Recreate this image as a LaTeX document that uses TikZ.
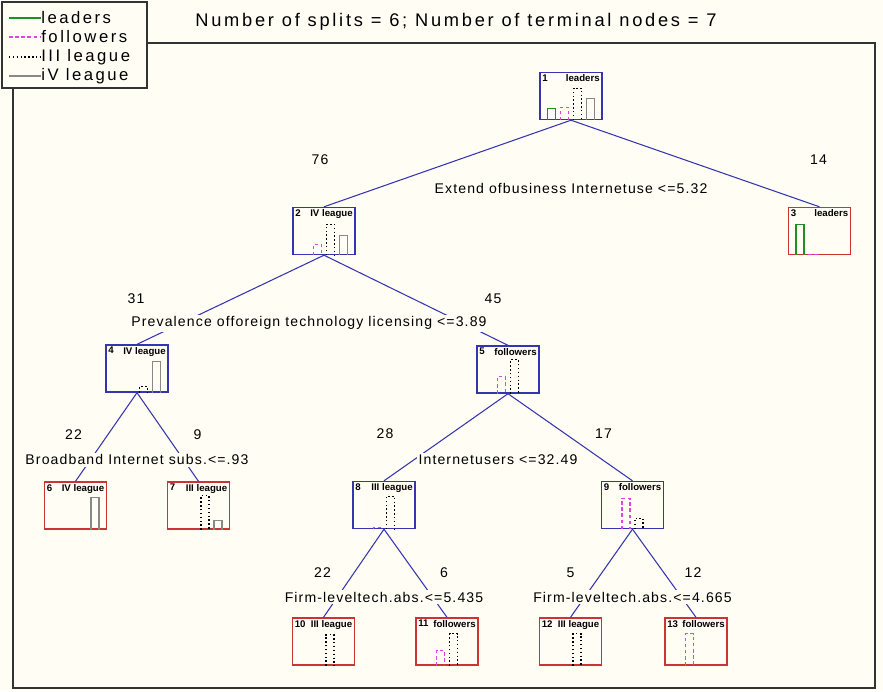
\documentclass[tikz,border=0pt]{standalone}
\usepackage{fontspec}
\setmainfont{Liberation Sans}
\newfontfamily\plotfont[LetterSpace=8]{Liberation Sans}
\newfontfamily\widefont[LetterSpace=15]{Liberation Sans}
\usepackage{xcolor}
\definecolor{plotbg}{HTML}{FFFDF4}
\definecolor{splitblue}{HTML}{3535B0}
\definecolor{leafred}{HTML}{CC3333}
\definecolor{leadgreen}{HTML}{209020}
\definecolor{follmag}{HTML}{DD44DD}
\definecolor{ivgray}{HTML}{888888}
\definecolor{framegray}{HTML}{333333}

\newcommand{\onebar}[3]{\ifdim#3pt>0pt\relax \draw[#1] (#2,0) -- ++(0,-#3) -- ++(8,0) -- ++(0,#3);\fi}
\newcommand{\classbars}[5]{\begin{scope}[shift={(#1.south)}]
\onebar{leadbar}{-23.5}{#2}\onebar{follbar}{-10.5}{#3}\onebar{iiibar}{2.5}{#4}\onebar{ivbar}{15.5}{#5}
\end{scope}}

\begin{document}
\begin{tikzpicture}[x=0.02cm,y=-0.02cm,
  splitbox/.style={rectangle,draw=splitblue,line width=0.8pt,minimum width=1.24cm,minimum height=0.94cm,inner sep=0pt},
  leafbox/.style={splitbox,draw=leafred},
  hdr/.style={font=\bfseries\fontsize{5.5}{6}\selectfont,inner sep=1.5pt},
  hdrs/.style 2 args={label={[hdr,anchor=north west]north west:#1},label={[hdr,anchor=north east]north east:#2}},
  branch/.style={draw=splitblue,line width=0.6pt},
  rulelabel/.style={font=\plotfont\fontsize{8}{9}\selectfont,fill=plotbg,inner sep=1pt},
  countlabel/.style={font=\plotfont\fontsize{8}{9}\selectfont,inner sep=1pt},
  legendtext/.style={font=\widefont\fontsize{9.5}{10}\selectfont,inner sep=0pt,anchor=west},
  leadbar/.style={leadgreen,line width=0.6pt},
  follbar/.style={follmag,line width=0.6pt,dash pattern=on 2pt off 1.5pt},
  iiibar/.style={black,line width=0.7pt,dash pattern=on 0.8pt off 1.4pt},
  ivbar/.style={ivgray,line width=0.6pt}]
\path[use as bounding box,fill=plotbg] (0,0) rectangle (883,691);
\draw[framegray,line width=0.6pt] (13,43) rectangle (875,688);

% title and legend
\node[font=\widefont\fontsize{10.4}{12}\selectfont] (title) at (456,22) {Number of splits = 6; Number of terminal nodes = 7};
\draw[framegray,line width=0.7pt,fill=plotbg] (2,2) rectangle (147,88);
\node[legendtext] (k1) at (41,18) {leaders};
\node[legendtext] (k2) at (41,37) {followers};
\node[legendtext] (k3) at (41,57) {III league};
\node[legendtext] (k4) at (41,76) {iV league};
\draw[leadbar] (k1.west) ++(-32,0) -- (k1.west);
\draw[follbar] (k2.west) ++(-32,0) -- (k2.west);
\draw[iiibar] (k3.west) ++(-32,0) -- (k3.west);
\draw[ivbar] (k4.west) ++(-32,0) -- (k4.west);

% tree nodes
\draw (571,96) node[splitbox,hdrs={1}{leaders}](n1) {};
\draw (324,231) node[splitbox,hdrs={2}{IV league}](n2) {};
\draw (819.5,231) node[leafbox,hdrs={3}{leaders}](n3) {};
\draw (137,368.5) node[splitbox,hdrs={4}{IV league}](n4) {};
\draw (508,369.5) node[splitbox,hdrs={5}{followers}](n5) {};
\draw (75.5,505.5) node[leafbox,hdrs={6}{IV league}](n6) {};
\draw (198.5,505.5) node[leafbox,hdrs={7}{III league}](n7) {};
\draw (384,505) node[splitbox,hdrs={8}{III league}](n8) {};
\draw (632.5,505) node[splitbox,hdrs={9}{followers}](n9) {};
\draw (323.5,641.5) node[leafbox,hdrs={10}{III league}](n10) {};
\draw (447,641.5) node[leafbox,hdrs={11}{followers}](n11) {};
\draw (570.5,641.5) node[leafbox,hdrs={12}{III league}](n12) {};
\draw (696,641.5) node[leafbox,hdrs={13}{followers}](n13) {};

% class histograms
\classbars{n1}{12}{13}{32}{22}
\classbars{n2}{0}{11}{31}{20}
\classbars{n3}{31}{1}{0}{0}
\classbars{n4}{0}{0}{6}{31}
\classbars{n5}{0}{17}{34}{0}
\classbars{n6}{0}{0}{0}{32}
\classbars{n7}{0}{0}{34}{9}
\classbars{n8}{0}{2}{33}{0}
\classbars{n9}{0}{31}{11}{0}
\classbars{n10}{0}{0}{31}{0}
\classbars{n11}{0}{15}{32}{0}
\classbars{n12}{0}{0}{32}{0}
\classbars{n13}{0}{32}{0}{0}

% branches
\draw[branch] (n1.south) -- (n2.north);
\draw[branch] (n1.south) -- (n3.north);
\draw[branch] (n2.south) -- (n4.north);
\draw[branch] (n2.south) -- (n5.north);
\draw[branch] (n4.south) -- (n6.north);
\draw[branch] (n4.south) -- (n7.north);
\draw[branch] (n5.south) -- (n8.north);
\draw[branch] (n5.south) -- (n9.north);
\draw[branch] (n8.south) -- (n10.north);
\draw[branch] (n8.south) -- (n11.north);
\draw[branch] (n9.south) -- (n12.north);
\draw[branch] (n9.south) -- (n13.north);

% split rules
\path (n1.south) ++(0,68) node[rulelabel](r1) {Extend ofbusiness Internetuse <=5.32};
\path (n2.south) ++(-15,68) node[rulelabel](r2) {Prevalence offoreign technology licensing <=3.89};
\path (n4.south) ++(0,67) node[rulelabel](r4) {Broadband Internet subs.<=.93};
\path (n5.south) ++(-10,66) node[rulelabel](r5) {Internetusers <=32.49};
\path (n8.south) ++(0,68) node[rulelabel](r8) {Firm-leveltech.abs.<=5.435};
\path (n9.south) ++(0,68) node[rulelabel](r9) {Firm-leveltech.abs.<=4.665};

% node sizes
\path (n2.north) ++(-4,-47) node[countlabel](c2) {76};
\path (n3.north) ++(-1,-47) node[countlabel](c3) {14};
\path (n4.north) ++(-1,-46) node[countlabel](c4) {31};
\path (n5.north) ++(-15,-47) node[countlabel](c5) {45};
\path (n6.north) ++(-2,-47) node[countlabel](c6) {22};
\path (n7.north) ++(-1,-47) node[countlabel](c7) {9};
\path (n8.north) ++(1,-47) node[countlabel](c8) {28};
\path (n9.north) ++(-29,-47) node[countlabel](c9) {17};
\path (n10.north) ++(-1,-45) node[countlabel](c10) {22};
\path (n11.north) ++(-3,-45) node[countlabel](c11) {6};
\path (n12.north) ++(0,-45) node[countlabel](c12) {5};
\path (n13.north) ++(-3,-45) node[countlabel](c13) {12};
\end{tikzpicture}
\end{document}
